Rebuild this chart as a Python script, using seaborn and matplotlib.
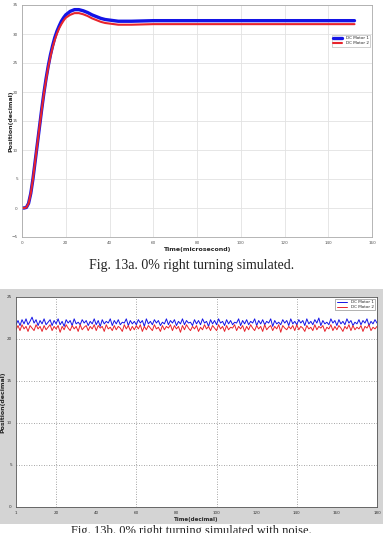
import numpy as np
import pandas as pd
import matplotlib
matplotlib.use("Agg")
import matplotlib.pyplot as plt
from matplotlib.patches import Rectangle
import seaborn as sns

# ==========================================
# data: Fig. 13a step response
# ==========================================
step_time = [0, 1, 2, 3, 4, 5, 6, 7, 8, 9, 10, 11, 12, 13, 14, 15, 16, 17, 18, 19, 20,
             22, 24, 26, 28, 30, 32, 34, 36, 38, 40, 42, 44, 46, 48, 50, 55, 60, 70,
             80, 100, 120, 140, 152]
motor1_step = [0, 0, 0.1, 0.8, 2.5, 5.0, 8.0, 11.0, 14.0, 17.0, 19.8, 22.3, 24.5, 26.4,
               28.0, 29.4, 30.5, 31.4, 32.2, 32.8, 33.3, 33.9, 34.2, 34.2, 34.0, 33.7,
               33.3, 33.0, 32.7, 32.5, 32.4, 32.3, 32.2, 32.2, 32.2, 32.2, 32.25, 32.3,
               32.3, 32.3, 32.3, 32.3, 32.3, 32.3]
motor2_step = [0, 0, 0.1, 0.8, 2.5, 5.0, 8.0, 11.0, 14.0, 16.9, 19.7, 22.1, 24.3, 26.1,
               27.7, 29.0, 30.1, 31.0, 31.7, 32.3, 32.8, 33.3, 33.6, 33.6, 33.4, 33.1,
               32.7, 32.4, 32.1, 31.9, 31.8, 31.7, 31.6, 31.6, 31.6, 31.6, 31.65, 31.7,
               31.7, 31.7, 31.7, 31.7, 31.7, 31.7]

# ==========================================
# data: Fig. 13b noisy response
# ==========================================
motor1_noise = [
    21.7, 22.2, 21.6, 22.3, 21.8, 22.4, 21.7, 22.1, 22.6, 21.9, 22.3, 21.6, 22.2, 21.8, 22.4, 21.7, 22.0, 22.3, 21.6, 22.2,
    21.8, 22.4, 21.7, 22.1, 21.5, 22.3, 21.9, 22.2, 21.6, 22.4, 21.8, 22.0, 21.7, 22.3, 21.9, 22.2, 21.6, 22.1, 21.8, 22.4,
    21.7, 22.2, 21.5, 22.3, 21.8, 22.1, 21.9, 22.4, 21.6, 22.2, 21.8, 22.3, 21.7, 22.0, 21.9, 22.4, 21.6, 22.2, 21.8, 22.1,
    21.7, 22.3, 21.9, 22.2, 21.5, 22.4, 21.8, 22.1, 21.7, 22.3, 21.9, 22.2, 21.6, 22.0, 21.8, 22.4, 21.7, 22.2, 21.9, 22.3,
    21.6, 22.1, 21.8, 22.4, 21.7, 22.2, 21.9, 22.0, 21.6, 22.3, 21.8, 22.2, 21.7, 22.4, 21.9, 22.1, 21.5, 22.3, 21.8, 22.2,
    21.7, 22.4, 21.9, 22.1, 21.6, 22.3, 21.8, 22.2, 21.7, 22.0, 21.9, 22.4, 21.6, 22.2, 21.8, 22.3, 21.7, 22.1, 21.9, 22.4,
    21.6, 22.2, 21.8, 22.3, 21.7, 22.1, 21.9, 22.4, 21.5, 22.2, 21.8, 22.0, 21.7, 22.3, 21.9, 22.2, 21.6, 22.4, 21.8, 22.1,
    21.7, 22.3, 21.9, 22.2, 21.6, 22.4, 21.8, 22.1, 21.7, 22.3, 21.9, 22.5, 21.6, 22.2, 21.8, 22.0, 21.7, 22.4, 21.9, 22.2,
    21.6, 22.3, 21.8, 22.1, 21.7, 22.4, 21.9, 22.2, 21.6, 22.0, 21.8, 22.3, 21.7, 22.2, 21.9, 22.4, 21.6, 22.1, 21.8, 22.3,
    21.9,
]
motor2_noise = [
    21.1, 21.6, 21.0, 21.7, 21.2, 21.5, 20.9, 21.6, 21.3, 21.0, 21.7, 21.2, 21.5, 20.9, 21.6, 21.1, 21.4, 21.7, 21.0, 21.5,
    21.2, 21.6, 20.8, 21.5, 21.1, 21.7, 21.3, 21.0, 21.6, 21.2, 21.5, 20.9, 21.7, 21.1, 21.4, 21.6, 21.0, 21.5, 21.2, 21.7,
    21.0, 21.6, 21.3, 21.5, 20.9, 21.7, 21.2, 21.4, 21.0, 21.6, 21.1, 21.5, 21.3, 20.9, 21.7, 21.2, 21.6, 21.0, 21.5, 21.1,
    21.6, 21.2, 21.7, 20.9, 21.5, 21.1, 21.6, 21.3, 21.0, 21.7, 21.2, 21.4, 20.9, 21.6, 21.1, 21.5, 21.3, 21.7, 21.0, 21.6,
    21.2, 21.5, 20.8, 21.6, 21.1, 21.7, 21.3, 21.0, 21.5, 21.2, 21.6, 20.9, 21.4, 21.1, 21.7, 21.2, 21.5, 21.0, 21.6, 21.3,
    21.0, 21.7, 21.2, 21.5, 20.9, 21.6, 21.1, 21.4, 21.3, 21.7, 21.0, 21.5, 21.2, 21.6, 20.9, 21.5, 21.1, 21.7, 21.3, 21.0,
    21.6, 21.2, 21.5, 20.9, 21.7, 21.1, 21.4, 21.6, 21.0, 21.5, 21.2, 21.7, 20.8, 21.6, 21.3, 21.1, 21.5, 21.2, 21.6, 21.0,
    21.7, 21.1, 21.5, 21.3, 20.9, 21.6, 21.2, 21.4, 21.0, 21.7, 21.1, 21.5, 21.3, 21.6, 20.9, 21.4, 21.2, 21.7, 21.0, 21.5,
    21.1, 21.6, 21.3, 20.9, 21.5, 21.2, 21.7, 21.0, 21.6, 21.1, 21.4, 21.2, 21.6, 20.9, 21.5, 21.3, 21.7, 21.0, 21.4, 21.2,
    21.5,
]
noise_time = np.linspace(0, 180, len(motor1_noise))

top_xticks = [0, 20, 40, 60, 80, 100, 120, 140, 160]
top_yticks = [-5, 0, 5, 10, 15, 20, 25, 30, 35]
bot_xticks = [0, 20, 40, 60, 80, 100, 120, 140, 160, 180]
bot_xlabels = ["1", "20", "40", "60", "80", "100", "120", "140", "160", "180"]
bot_yticks = [0, 5, 10, 15, 20, 25]

BLUE = "#1414e6"
RED = "#e8242c"
W, H = 383, 533

sns.set_style("white")
plt.rcParams['font.family'] = ['DejaVu Sans']

fig = plt.figure(figsize=(W / 100, H / 100), dpi=100)

def frac(x0, y0, x1, y1):
    return [x0 / W, 1 - y1 / H, (x1 - x0) / W, (y1 - y0) / H]

# grey MATLAB figure background behind the lower panel
fig.patches.append(Rectangle((0, 1 - 524 / H), 1, (524 - 289) / H, transform=fig.transFigure,
                             facecolor="#d4d4d4", edgecolor="none", zorder=-5))

# ==========================================
# top panel
# ==========================================
ax1 = fig.add_axes(frac(22, 5, 372, 237))
df_step = pd.DataFrame({"t": step_time * 2,
                        "pos": motor1_step + motor2_step,
                        "motor": ["DC Motor 1"] * len(step_time) + ["DC Motor 2"] * len(step_time)})
sns.lineplot(data=df_step[df_step.motor == "DC Motor 1"], x="t", y="pos", color=BLUE,
             linewidth=2.4, ax=ax1, label="DC Motor 1")
sns.lineplot(data=df_step[df_step.motor == "DC Motor 2"], x="t", y="pos", color=RED,
             linewidth=1.5, ax=ax1, label="DC Motor 2")
ax1.set_xlim(0, 160)
ax1.set_ylim(-5, 35)
ax1.set_xticks(top_xticks)
ax1.set_yticks(top_yticks)
ax1.tick_params(labelsize=3, length=2, width=0.4, colors="#555555", pad=1)
ax1.grid(True, color="#e2e2e2", linewidth=0.6)
for s in ax1.spines.values():
    s.set_color("#aaaaaa")
    s.set_linewidth(0.6)
ax1.set_xlabel("Time(microsecond)", fontsize=4.5, fontweight="bold", labelpad=1)
ax1.set_ylabel("Position(decimal)", fontsize=4.5, fontweight="bold")
ax1.yaxis.set_label_coords(-0.024, 0.5)
leg = ax1.legend(loc="upper right", bbox_to_anchor=(1.0, 0.88), fontsize=3, frameon=True,
                 fancybox=False, handlelength=2.2, borderpad=0.3, labelspacing=0.3)
leg.get_frame().set_linewidth(0.4)
leg.get_frame().set_edgecolor("#999999")

fig.text(0.5, 1 - 265 / H, "Fig. 13a. 0% right turning simulated.", ha="center", va="center",
         fontsize=10, family="Liberation Serif", color="#222222")

# ==========================================
# bottom panel
# ==========================================
ax2 = fig.add_axes(frac(16, 297, 377, 507))
ax2.set_facecolor("white")
df_noise = pd.DataFrame({"t": np.concatenate([noise_time, noise_time]),
                         "pos": motor1_noise + motor2_noise,
                         "motor": ["DC Motor 1"] * len(noise_time) + ["DC Motor 2"] * len(noise_time)})
sns.lineplot(data=df_noise, x="t", y="pos", hue="motor", palette=[BLUE, RED],
             linewidth=0.7, ax=ax2)
ax2.set_xlim(0, 180)
ax2.set_ylim(0, 25)
ax2.set_xticks(bot_xticks)
ax2.set_xticklabels(bot_xlabels)
ax2.set_yticks(bot_yticks)
ax2.tick_params(labelsize=3, length=2, width=0.4, colors="#333333", pad=1)
for yv in bot_yticks[1:-1]:
    ax2.axhline(yv, color="#888888", linewidth=0.6, linestyle=(0, (1, 2)), zorder=0)
for xv in [20, 60, 100, 140]:
    ax2.axvline(xv, color="#888888", linewidth=0.6, linestyle=(0, (1, 2)), zorder=0)
for s in ax2.spines.values():
    s.set_color("#555555")
    s.set_linewidth(0.6)
ax2.set_xlabel("Time(decimal)", fontsize=4, fontweight="bold", labelpad=1)
ax2.set_ylabel("Position(decimal)", fontsize=4.5, fontweight="bold")
ax2.yaxis.set_label_coords(-0.03, 0.5)
leg2 = ax2.legend(loc="upper right", fontsize=3, frameon=True, fancybox=False,
                  handlelength=2.6, borderpad=0.3, labelspacing=0.2, title=None)
leg2.get_frame().set_linewidth(0.4)
leg2.get_frame().set_edgecolor("#555555")

fig.text(0.5, 1 - 525 / H, "Fig. 13b. 0% right turning simulated with noise.", ha="center",
         va="top", fontsize=9, family="Liberation Serif", color="#222222")

fig.savefig("out.png", dpi=100)
